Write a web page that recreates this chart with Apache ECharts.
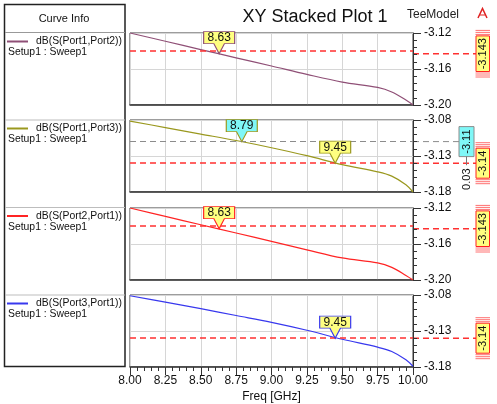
<!DOCTYPE html>
<html><head><meta charset="utf-8">
<script src="https://cdn.jsdelivr.net/npm/echarts@6/dist/echarts.min.js"></script>
<style>html,body{margin:0;padding:0;background:#fff}#c{width:497px;height:404px}</style>
</head><body><div id="c"></div>
<script>
// ---- data ----
const freq = [8.00, 8.25, 8.50, 8.75, 9.00, 9.25, 9.50, 9.75, 9.85, 9.95, 10.00];
const s12 = [-3.1200, -3.1292, -3.1384, -3.1476, -3.1567, -3.1660, -3.1745, -3.1805, -3.1855, -3.1945, -3.2000];
const s13 = [-3.0815, -3.0905, -3.0995, -3.1085, -3.1185, -3.1295, -3.1420, -3.1520, -3.1580, -3.1700, -3.1800];
const s21 = [-3.1200, -3.1293, -3.1386, -3.1478, -3.1570, -3.1665, -3.1755, -3.1810, -3.1860, -3.1950, -3.2000];
const s31 = [-3.0810, -3.0900, -3.0990, -3.1085, -3.1180, -3.1290, -3.1415, -3.1525, -3.1585, -3.1700, -3.1790];
const curveNames = ['dB(S(Port1,Port2))', 'dB(S(Port1,Port3))', 'dB(S(Port2,Port1))', 'dB(S(Port3,Port1))'];
const setupName = 'Setup1 : Sweep1';
const curveColors = ['#8f4f76', '#9a981e', '#ff2424', '#3838ee'];
const yMin = [-3.20, -3.18, -3.20, -3.18];
const yMax = [-3.12, -3.08, -3.12, -3.08];
const yInterval = [0.04, 0.05, 0.04, 0.05];
const xMin = 8.00, xMax = 10.00, xInterval = 0.25;
// markers: panel, x, y, kind
const markerPanel = [0, 1, 1, 2, 3];
const markerX = [8.63, 8.79, 9.45, 8.63, 9.45];
const markerY = [-3.143, -3.11, -3.14, -3.143, -3.14];
const markerKind = ['yellow', 'cyan', 'yellow', 'yellow', 'yellow'];
// reference lines: panel, value, label, kind
const refPanel = [0, 1, 1, 2, 3];
const refValue = [-3.143, -3.11, -3.14, -3.143, -3.14];
const refLabel = ['-3.143', '-3.11', '-3.14', '-3.143', '-3.14'];
const refKind = ['yellow', 'cyan', 'yellow', 'yellow', 'yellow'];
const deltaLabel = '0.03';
const seriesData = [s12, s13, s21, s31];

// ---- layout ----
const FONT = "'Liberation Sans', Arial, sans-serif";
const tops = [33, 120, 208, 295];
const H = 72, L = 130, R = 84;

const grids = [], xAxes = [], yAxes = [], series = [];
for (let i = 0; i < 4; i++) {
  const last = i === 3;
  grids.push({ left: L, right: R, top: tops[i], height: H, show: true, borderColor: '#3a3a3a', borderWidth: 1, backgroundColor: '#fff' });
  xAxes.push({
    gridIndex: i, type: 'value', min: xMin, max: xMax, interval: xInterval,
    axisLine: { show: true, lineStyle: { color: '#333', width: 1.5 } },
    axisTick: { show: last, length: 8, lineStyle: { color: '#333' } },
    minorTick: { show: last, splitNumber: 5, length: 4, lineStyle: { color: '#333' } },
    axisLabel: { show: last, margin: 8, fontSize: 12, color: '#111', fontFamily: FONT, formatter: v => v.toFixed(2) },
    splitLine: { show: true, lineStyle: { color: '#d6d6d6', width: 1 } },
    name: last ? 'Freq [GHz]' : '', nameLocation: 'middle', nameGap: 24,
    nameTextStyle: { fontSize: 12, color: '#111', fontFamily: FONT }
  });
  yAxes.push({
    gridIndex: i, type: 'value', position: 'right', min: yMin[i], max: yMax[i], interval: yInterval[i],
    axisLine: { show: true, lineStyle: { color: '#333', width: 1 } },
    axisTick: { show: true, inside: false, length: 8, lineStyle: { color: '#333' } },
    minorTick: { show: true, splitNumber: 5, length: 4, lineStyle: { color: '#333' } },
    axisLabel: { margin: 11, fontSize: 12, color: '#111', fontFamily: FONT, formatter: v => v.toFixed(2) },
    splitLine: { show: true, lineStyle: { color: '#d6d6d6', width: 1 } }
  });
  const mlData = [], mpData = [];
  refPanel.forEach((p, k) => {
    if (p !== i) return;
    const grey = refKind[k] === 'cyan';
    mlData.push({ yAxis: refValue[k], lineStyle: { color: grey ? '#8c8c8c' : '#ff3030', width: grey ? 1 : 1.5, type: [6, 4] } });
  });
  markerPanel.forEach((p, k) => {
    if (p !== i) return;
    const cyan = markerKind[k] === 'cyan';
    mpData.push({
      coord: [markerX[k], markerY[k]], value: markerX[k].toFixed(2),
      itemStyle: { color: cyan ? '#7ff7f7' : '#ffff80', borderColor: curveColors[i], borderWidth: 1 }
    });
  });
  series.push({
    type: 'line', xAxisIndex: i, yAxisIndex: i, name: curveNames[i],
    data: freq.map((f, j) => [f, seriesData[i][j]]),
    showSymbol: false, smooth: 0.35, lineStyle: { color: curveColors[i], width: 1.2 }, color: curveColors[i],
    markLine: { silent: true, symbol: 'none', label: { show: false }, data: mlData },
    markPoint: {
      silent: true,
      symbol: 'path://M0,0 L31,0 L31,12 L20.8,12 L15.5,22 L10.2,12 L0,12 Z',
      symbolSize: [31, 22], symbolOffset: [0, -11],
      label: { show: true, position: 'inside', offset: [0, -5], fontSize: 12, color: '#111', fontFamily: FONT, formatter: p => p.value },
      data: mpData
    },
    z: 3
  });
}

const chart = echarts.init(document.getElementById('c'), null, { renderer: 'canvas' });
chart.setOption({
  animation: false,
  backgroundColor: '#fff',
  textStyle: { fontFamily: FONT },
  title: { text: 'XY Stacked Plot 1', left: 310, top: 3, textAlign: 'center',
    textStyle: { fontSize: 18, fontWeight: 'normal', color: '#111', fontFamily: FONT } },
  grid: grids, xAxis: xAxes, yAxis: yAxes, series: series
});

// ---- graphics: legend panel, header texts, right-hand value tags ----
const g = [];
g.push({ type: 'text', x: 433, y: 15, style: { text: 'TeeModel', font: '12px ' + FONT, fill: '#222', align: 'center', verticalAlign: 'middle' } });
g.push({ type: 'polyline', shape: { points: [[478, 18], [482.5, 8.5], [487, 18]] }, style: { stroke: '#e02020', lineWidth: 1.5, fill: null } });
g.push({ type: 'line', shape: { x1: 480, y1: 15, x2: 485, y2: 15 }, style: { stroke: '#e02020', lineWidth: 1 } });

// legend box
g.push({ type: 'rect', shape: { x: 4.5, y: 4.5, width: 120.5, height: 362 }, style: { fill: '#fff', stroke: '#222', lineWidth: 1.5 }, z: 0 });
g.push({ type: 'line', shape: { x1: 5, y1: 32.5, x2: 125, y2: 32.5 }, style: { stroke: '#999', lineWidth: 1 } });
g.push({ type: 'text', x: 64, y: 19, style: { text: 'Curve Info', font: '11px ' + FONT, fill: '#111', align: 'center', verticalAlign: 'middle' } });
const rowTops = [33, 120, 207.5, 295];
rowTops.forEach((t, i) => {
  if (i > 0) g.push({ type: 'line', shape: { x1: 5, y1: t, x2: 125, y2: t }, style: { stroke: '#bdbdbd', lineWidth: 1 } });
  g.push({ type: 'line', shape: { x1: 7, y1: t + 8.5, x2: 28, y2: t + 8.5 }, style: { stroke: curveColors[i], lineWidth: 2 } });
  g.push({ type: 'text', x: 36, y: t + 8.5, style: { text: curveNames[i], font: '10.4px ' + FONT, fill: '#111', align: 'left', verticalAlign: 'middle' } });
  g.push({ type: 'text', x: 8, y: t + 19.5, style: { text: setupName, font: '10.4px ' + FONT, fill: '#111', align: 'left', verticalAlign: 'middle' } });
});

// right-hand value tags
let cyanBottom = null, cyanX = null, redYForDelta = null;
refPanel.forEach((p, k) => {
  const y = chart.convertToPixel({ yAxisIndex: p }, refValue[k]);
  const xr = chart.convertToPixel({ xAxisIndex: p }, xMax);
  const cyan = refKind[k] === 'cyan';
  const bx = cyan ? 459 : 476, bw = cyan ? 15 : 13.5;
  const h = refLabel[k].length * 5.6 + 2;
  g.push({ type: 'line', shape: { x1: xr, y1: y, x2: bx, y2: y },
    style: { stroke: cyan ? '#8c8c8c' : '#ff3030', lineWidth: cyan ? 1 : 1.5, lineDash: [6, 4] } });
  if (!cyan) {
    for (let j = 0; j < 3; j++) {
      g.push({ type: 'line', shape: { x1: bx - 0.5, y1: y - h / 2 - 1.5 - 2 * j, x2: bx + bw + 0.5, y2: y - h / 2 - 1.5 - 2 * j }, style: { stroke: '#ff7070', lineWidth: 1 } });
      g.push({ type: 'line', shape: { x1: bx - 0.5, y1: y + h / 2 + 1.5 + 2 * j, x2: bx + bw + 0.5, y2: y + h / 2 + 1.5 + 2 * j }, style: { stroke: '#ff7070', lineWidth: 1 } });
    }
  }
  g.push({ type: 'rect', shape: { x: bx, y: y - h / 2, width: bw, height: h },
    style: { fill: cyan ? '#7ff7f7' : '#ffff80', stroke: cyan ? '#8c8c8c' : '#ff2020', lineWidth: 1 } });
  g.push({ type: 'text', x: bx + bw / 2, y: y, rotation: Math.PI / 2,
    style: { text: refLabel[k], font: '11px ' + FONT, fill: '#111', align: 'center', verticalAlign: 'middle' } });
  if (cyan) { cyanBottom = y + h / 2; cyanX = bx + bw / 2; }
  else if (p === 1) { redYForDelta = y; }
});
if (cyanBottom !== null && redYForDelta !== null) {
  g.push({ type: 'line', shape: { x1: cyanX, y1: cyanBottom, x2: cyanX, y2: redYForDelta + 2 }, style: { stroke: '#777', lineWidth: 1 } });
  g.push({ type: 'text', x: cyanX, y: redYForDelta + 16, rotation: Math.PI / 2,
    style: { text: deltaLabel, font: '11px ' + FONT, fill: '#111', align: 'center', verticalAlign: 'middle' } });
}
chart.setOption({ graphic: g });
</script>
</body></html>
